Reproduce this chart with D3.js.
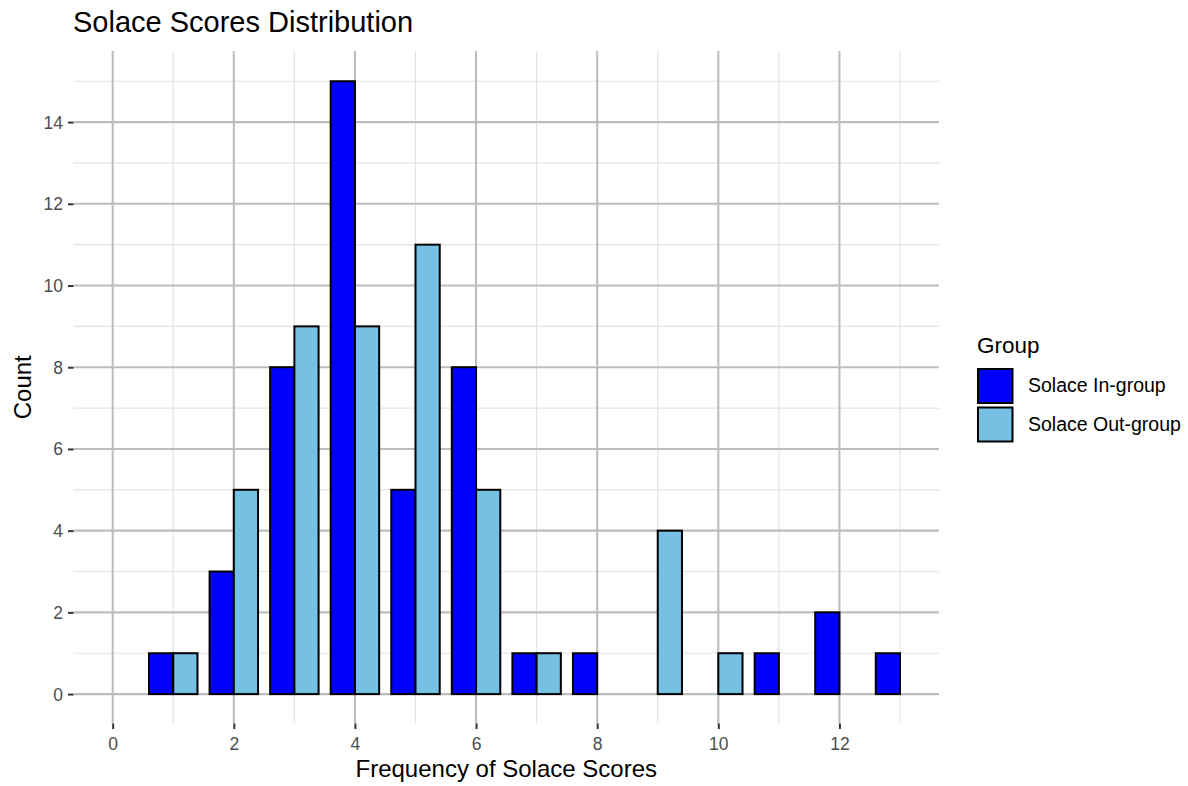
<!DOCTYPE html>
<html><head><meta charset="utf-8">
<script src="https://cdn.jsdelivr.net/npm/d3@7"></script>
<style>body{margin:0;background:#fff;font-family:"Liberation Sans",Arial,sans-serif;}</style>
</head><body><svg id="c" width="1188" height="786"></svg>
<script>
const groups = ["Solace In-group", "Solace Out-group"];
const colors = ["#0000FF", "#75C0E3"];
const inScores = [1, 2, 3, 4, 5, 6, 7, 8, 11, 12, 13];
const inCounts = [1, 3, 8, 15, 5, 8, 1, 1, 1, 2, 1];
const outScores = [1, 2, 3, 4, 5, 6, 7, 9, 10];
const outCounts = [1, 5, 9, 9, 11, 5, 1, 4, 1];
const xTicks = [0, 2, 4, 6, 8, 10, 12];
const yTicks = [0, 2, 4, 6, 8, 10, 12, 14];

const svg = d3.select("#c");
const L = 73.5, R = 939, T = 51, B = 723.5;
const x = d3.scaleLinear().domain([-0.647, 13.644]).range([L, R]);
const y = d3.scaleLinear().domain([-0.72, 15.74]).range([B, T]);

const g = svg.append("g");
const xMinor = d3.range(1, 14, 2);
const yMinor = d3.range(1, 16, 2);
g.selectAll(".vx").data(xMinor).join("line").attr("x1", d => x(d)).attr("x2", d => x(d)).attr("y1", T).attr("y2", B).attr("stroke", "#e3e3e3").attr("stroke-width", 1.2);
g.selectAll(".hy").data(yMinor).join("line").attr("y1", d => y(d)).attr("y2", d => y(d)).attr("x1", L).attr("x2", R).attr("stroke", "#e3e3e3").attr("stroke-width", 1.2);
g.selectAll(".Vx").data(xTicks).join("line").attr("x1", d => x(d)).attr("x2", d => x(d)).attr("y1", T).attr("y2", B).attr("stroke", "#bdbdbd").attr("stroke-width", 2.1);
g.selectAll(".Hy").data(yTicks).join("line").attr("y1", d => y(d)).attr("y2", d => y(d)).attr("x1", L).attr("x2", R).attr("stroke", "#bdbdbd").attr("stroke-width", 2.1);

const w = x(0.4) - x(0);
const mk = (scores, counts, gi) => scores.map((s, i) => ({x: s, c: counts[i], g: gi}));
const data = mk(inScores, inCounts, 0).concat(mk(outScores, outCounts, 1));
g.selectAll(".bar").data(data).join("rect")
  .attr("x", d => x(d.x + (d.g === 0 ? -0.4 : 0)))
  .attr("width", w)
  .attr("y", d => y(d.c))
  .attr("height", d => y(0) - y(d.c))
  .attr("fill", d => colors[d.g])
  .attr("stroke", "#000").attr("stroke-width", 2);

const ax = d3.axisBottom(x).tickValues(xTicks).tickSize(5.5).tickPadding(5).tickFormat(d3.format("d"));
const ay = d3.axisLeft(y).tickValues(yTicks).tickSize(5.5).tickPadding(5).tickFormat(d3.format("d"));
const gx = svg.append("g").attr("transform", `translate(0,${B})`).call(ax);
const gy = svg.append("g").attr("transform", `translate(${L},0)`).call(ay);
[gx, gy].forEach(a => {
  a.select(".domain").remove();
  a.selectAll(".tick line").attr("stroke", "#333").attr("stroke-width", 2);
  a.selectAll(".tick text").attr("fill", "#4d4d4d").attr("font-size", 17.5).attr("font-family", "Liberation Sans, Arial, sans-serif");
});
gx.selectAll(".tick text").attr("dy", null).attr("y", 0).attr("dy", "26");
gy.selectAll(".tick text").attr("dy", "0.34em");

svg.append("text").attr("x", 73).attr("y", 32).attr("font-size", 29).attr("fill", "#000").text("Solace Scores Distribution");
svg.append("text").attr("x", (L + R) / 2).attr("y", 777).attr("text-anchor", "middle").attr("font-size", 24).text("Frequency of Solace Scores");
svg.append("text").attr("transform", `translate(31,${(T + B) / 2}) rotate(-90)`).attr("text-anchor", "middle").attr("font-size", 24).text("Count");

const lg = svg.append("g");
lg.append("text").attr("x", 977).attr("y", 353).attr("font-size", 22.5).text("Group");
groups.forEach((gname, i) => {
  lg.append("rect").attr("x", 978).attr("y", 369 + i * 38.5).attr("width", 34.5).attr("height", 34).attr("fill", colors[i]).attr("stroke", "#000").attr("stroke-width", 2);
  lg.append("text").attr("x", 1028).attr("y", 392 + i * 38.5).attr("font-size", 19.5).text(gname);
});
</script></body></html>
